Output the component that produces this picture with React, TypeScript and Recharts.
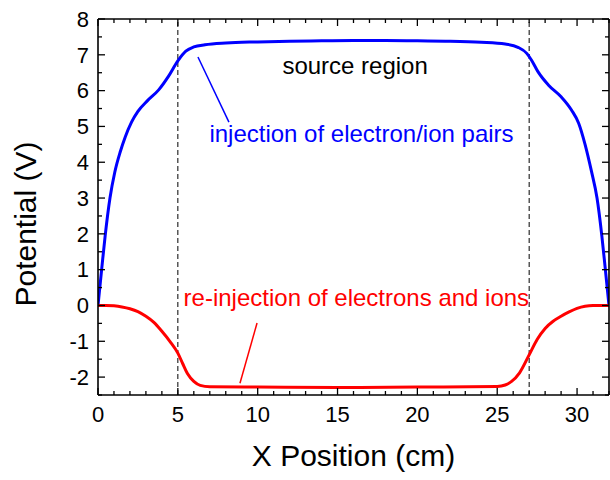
import { LineChart, Line, XAxis, YAxis, ReferenceLine, ReferenceDot } from "recharts"

const FONT = "'Liberation Sans', Arial, Helvetica, sans-serif"

// blue: injection of electron/ion pairs
const bluePositions = [0, 0.25, 0.45, 0.75, 1.05, 1.4, 1.7, 2.1, 2.5, 3.1, 3.8, 4.4, 5.0, 5.5, 6.0, 6.7, 8, 10, 12, 14, 16, 18, 20, 22, 24, 25.5, 26.3, 26.85, 27.15, 27.55, 28.2, 29.0, 29.65, 30.1, 30.5, 30.9, 31.25, 31.55, 31.75, 32]
const bluePotential = [0, 1.1, 1.95, 3.0, 3.72, 4.3, 4.7, 5.12, 5.42, 5.72, 6.02, 6.39, 6.83, 7.1, 7.22, 7.28, 7.33, 7.36, 7.38, 7.39, 7.4, 7.4, 7.39, 7.38, 7.35, 7.3, 7.21, 7.04, 6.85, 6.53, 6.16, 5.83, 5.46, 5.09, 4.5, 3.75, 3.0, 1.95, 1.1, 0]

// red: re-injection of electrons and ions
const redPositions = [0, 0.5, 1.0, 1.5, 2.0, 2.5, 3.0, 3.5, 4.0, 4.5, 5.0, 5.3, 5.6, 6.0, 6.4, 7.0, 10, 15, 20, 25, 25.5, 25.9, 26.4, 27.0, 27.5, 28.0, 28.5, 29.0, 29.5, 30.0, 30.5, 31, 32]
const redPotential = [0, 0, -0.01, -0.04, -0.09, -0.17, -0.3, -0.47, -0.72, -1.0, -1.33, -1.62, -1.9, -2.12, -2.23, -2.27, -2.28, -2.29, -2.28, -2.26, -2.22, -2.12, -1.88, -1.38, -0.95, -0.64, -0.44, -0.3, -0.18, -0.08, -0.02, 0, 0]

const xTicks = [0, 1, 2, 3, 4, 5, 6, 7, 8, 9, 10, 11, 12, 13, 14, 15, 16, 17, 18, 19, 20, 21, 22, 23, 24, 25, 26, 27, 28, 29, 30, 31, 32]
const xLabels = [0, 5, 10, 15, 20, 25, 30]
const yTicks = [-2.5, -2, -1.5, -1, -0.5, 0, 0.5, 1, 1.5, 2, 2.5, 3, 3.5, 4, 4.5, 5, 5.5, 6, 6.5, 7, 7.5, 8]
const yLabels = [-2, -1, 0, 1, 2, 3, 4, 5, 6, 7, 8]

const regionBounds = [5, 27]

const blueData = bluePositions.map((x, i) => ({ x, v: bluePotential[i] }))
const redData = redPositions.map((x, i) => ({ x, v: redPotential[i] }))

const XTick = (props: any) => {
  const { x, y, payload, side } = props
  const v = payload.value
  const major = xLabels.includes(v)
  const len = major ? 7 : 4
  const dir = side === "bottom" ? -1 : 1
  return (
    <g>
      <line x1={x} x2={x} y1={y} y2={y + dir * len} stroke="#000" strokeWidth={1.3} />
      {major && side === "bottom" && (
        <text x={x} y={y + 27} textAnchor="middle" fontSize={22} fontFamily={FONT} fill="#000">
          {v}
        </text>
      )}
    </g>
  )
}

const YTick = (props: any) => {
  const { x, y, payload, side } = props
  const v = payload.value
  const major = yLabels.includes(v)
  const len = major ? 7 : 4
  const dir = side === "left" ? 1 : -1
  return (
    <g>
      <line x1={x} x2={x + dir * len} y1={y} y2={y} stroke="#000" strokeWidth={1.3} />
      {major && side === "left" && (
        <text x={x - 9} y={y + 7.8} textAnchor="end" fontSize={22} fontFamily={FONT} fill="#000">
          {v}
        </text>
      )}
    </g>
  )
}

export default function App() {
  return (
    <div style={{ position: "absolute", left: 0, top: 0, background: "#fff" }}>
      <LineChart width={610} height={480} margin={{ top: 18, right: 0, bottom: 84, left: 97 }}>
        <XAxis
          dataKey="x"
          type="number"
          domain={[0, 32]}
          ticks={xTicks}
          interval={0}
          height={1}
          tickSize={0}
          tickMargin={0}
          tickLine={false}
          axisLine={{ stroke: "#000", strokeWidth: 1.6 }}
          tick={(p: any) => <XTick {...p} side="bottom" />}
          allowDataOverflow
          label={{ value: "X Position (cm)", position: "bottom", offset: 49, fontSize: 30, fill: "#000", fontFamily: FONT }}
        />
        <XAxis
          xAxisId="top"
          orientation="top"
          dataKey="x"
          type="number"
          domain={[0, 32]}
          ticks={xTicks}
          interval={0}
          height={1}
          tickSize={0}
          tickMargin={0}
          tickLine={false}
          axisLine={{ stroke: "#000", strokeWidth: 1.6 }}
          tick={(p: any) => <XTick {...p} side="top" />}
          allowDataOverflow
        />
        <YAxis
          type="number"
          domain={[-2.5, 8]}
          ticks={yTicks}
          interval={0}
          width={1}
          tickSize={0}
          tickMargin={0}
          tickLine={false}
          axisLine={{ stroke: "#000", strokeWidth: 1.6 }}
          tick={(p: any) => <YTick {...p} side="left" />}
          allowDataOverflow
          label={{
            value: "Potential (V)",
            angle: -90,
            position: "left",
            offset: 72,
            dy: 17,
            fontSize: 30,
            fill: "#000",
            fontFamily: FONT,
            style: { textAnchor: "middle" },
          }}
        />
        <YAxis
          yAxisId="right"
          orientation="right"
          type="number"
          domain={[-2.5, 8]}
          ticks={yTicks}
          interval={0}
          width={1}
          tickSize={0}
          tickMargin={0}
          tickLine={false}
          axisLine={{ stroke: "#000", strokeWidth: 1.6 }}
          tick={(p: any) => <YTick {...p} side="right" />}
          allowDataOverflow
        />

        {regionBounds.map((b) => (
          <ReferenceLine key={b} x={b} stroke="#000" strokeWidth={1} strokeDasharray="5 3" />
        ))}

        <ReferenceLine segment={[{ x: 6.26, y: 6.94 }, { x: 8.2, y: 5.12 }]} stroke="#0000ff" strokeWidth={1.5} />
        <ReferenceLine segment={[{ x: 9.96, y: -0.49 }, { x: 8.89, y: -2.17 }]} stroke="#ff0000" strokeWidth={1.5} />

        <ReferenceDot
          x={16.1}
          y={6.69}
          r={0}
          fill="none"
          stroke="none"
          label={{ value: "source region", position: "center", fontSize: 24, fill: "#000", fontFamily: FONT }}
        />
        <ReferenceDot
          x={16.5}
          y={4.79}
          r={0}
          fill="none"
          stroke="none"
          label={{ value: "injection of electron/ion pairs", position: "center", fontSize: 24, fill: "#0000ff", fontFamily: FONT }}
        />
        <ReferenceDot
          x={16.18}
          y={0.23}
          r={0}
          fill="none"
          stroke="none"
          label={{ value: "re-injection of electrons and ions", position: "center", fontSize: 24, fill: "#ff0000", fontFamily: FONT }}
        />

        <Line data={blueData} dataKey="v" type="monotone" stroke="#0000ff" strokeWidth={3} dot={false} isAnimationActive={false} />
        <Line data={redData} dataKey="v" type="monotone" stroke="#ff0000" strokeWidth={3} dot={false} isAnimationActive={false} />
      </LineChart>
    </div>
  )
}
